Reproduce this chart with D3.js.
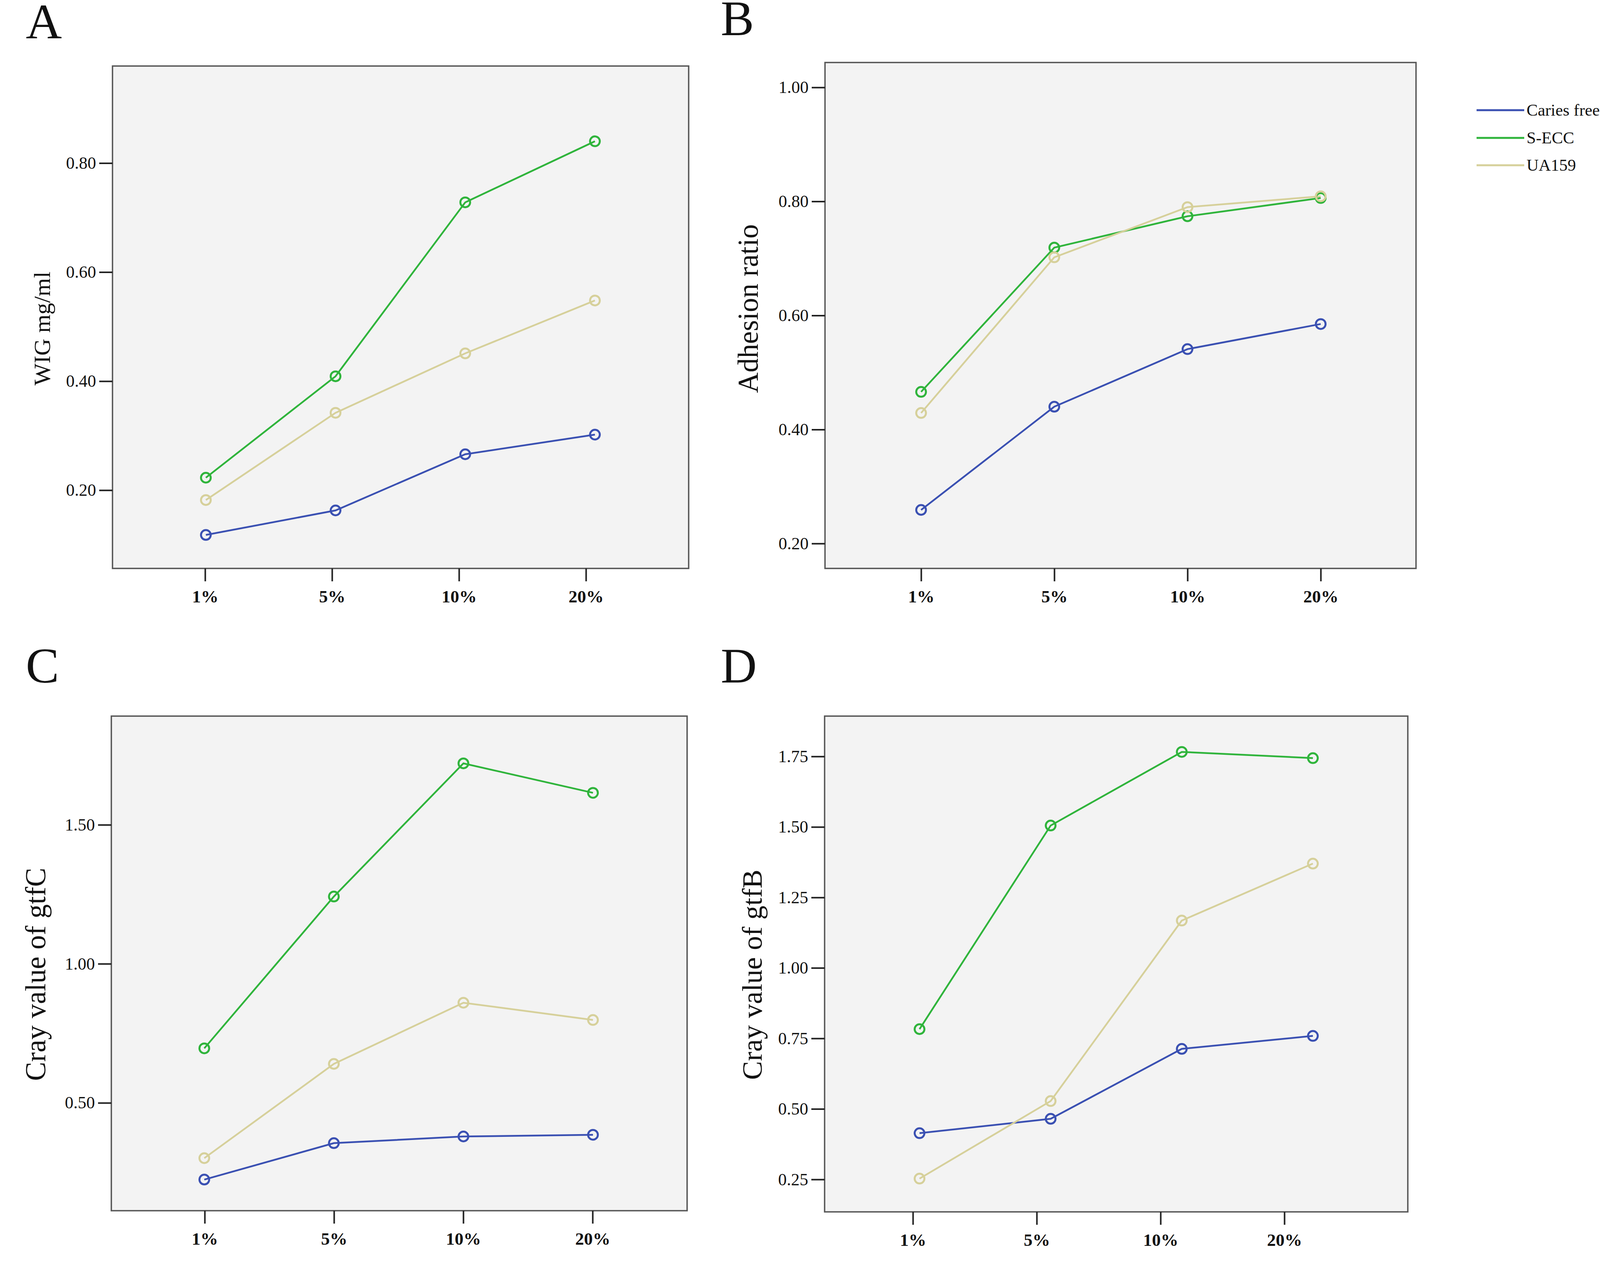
<!DOCTYPE html>
<html>
<head>
<meta charset="utf-8">
<script src="https://cdn.jsdelivr.net/npm/d3@7"></script>
<style>
  html, body { margin: 0; padding: 0; background: #fff; overflow: hidden; }
  svg { display: block; }
  text { font-family: "Liberation Serif", "Times New Roman", serif; fill: #111; }
</style>
</head>
<body>
<svg id="container" width="4142" height="3238"></svg>
<script>
// data
const categories = ["1%", "5%", "10%", "20%"];
const seriesNames = ["Caries free", "S-ECC", "UA159"];
const seriesColors = ["#3a50b2", "#2fb43b", "#d6d09a"];

const wigCariesFree = [0.118, 0.163, 0.266, 0.302];
const wigSECC = [0.223, 0.409, 0.728, 0.840];
const wigUA159 = [0.182, 0.342, 0.451, 0.548];

const adhCariesFree = [0.259, 0.440, 0.541, 0.585];
const adhSECC = [0.466, 0.719, 0.774, 0.806];
const adhUA159 = [0.429, 0.702, 0.790, 0.809];

const gtfCCariesFree = [0.224, 0.355, 0.379, 0.385];
const gtfCSECC = [0.696, 1.242, 1.721, 1.615];
const gtfCUA159 = [0.301, 0.640, 0.860, 0.798];

const gtfBCariesFree = [0.414, 0.465, 0.713, 0.759];
const gtfBSECC = [0.783, 1.505, 1.766, 1.744];
const gtfBUA159 = [0.253, 0.528, 1.168, 1.370];

const ticksA = [0.20, 0.40, 0.60, 0.80];
const ticksB = [0.20, 0.40, 0.60, 0.80, 1.00];
const ticksC = [0.50, 1.00, 1.50];
const ticksD = [0.25, 0.50, 0.75, 1.00, 1.25, 1.50, 1.75];

const svg = d3.select('#container');

const panels = [
  {letter: "A", title: "WIG mg/ml", series: [wigCariesFree, wigSECC, wigUA159], ticks: ticksA,
   domain: [0.0566, 0.978], box: [288, 169, 1763, 1455], tickX: [525, 1500], ptX: [527, 1523],
   letterPos: [66, 98], titlePos: [128, 841], titleSize: 60},
  {letter: "B", title: "Adhesion ratio", series: [adhCariesFree, adhSECC, adhUA159], ticks: ticksB,
   domain: [0.1564, 1.0436], box: [2112, 160, 3625, 1455], tickX: [2358, 3381], ptX: [2358, 3381],
   letterPos: [1845, 90], titlePos: [1940, 790], titleSize: 73},
  {letter: "C", title: "Cray value of gtfC", series: [gtfCCariesFree, gtfCSECC, gtfCUA159], ticks: ticksC,
   domain: [0.112, 1.891], box: [285, 1833, 1759, 3099], tickX: [524, 1517], ptX: [523, 1518],
   letterPos: [66, 1747], titlePos: [116, 2494], titleSize: 73},
  {letter: "D", title: "Cray value of gtfB", series: [gtfBCariesFree, gtfBSECC, gtfBUA159], ticks: ticksD,
   domain: [0.135, 1.893], box: [2111, 1833, 3604, 3102], tickX: [2337, 3288], ptX: [2354, 3361],
   letterPos: [1845, 1747], titlePos: [1950, 2495], titleSize: 72}
];

panels.forEach(p => {
  const [x0, y0, x1, y1] = p.box;
  const g = svg.append('g');

  const y = d3.scaleLinear().domain(p.domain).range([y1, y0]);
  const xTick = d3.scalePoint().domain(categories).range(p.tickX);
  const xPt = d3.scalePoint().domain(categories).range(p.ptX);

  g.append('rect')
    .attr('x', x0).attr('y', y0)
    .attr('width', x1 - x0).attr('height', y1 - y0)
    .attr('fill', '#f3f3f3')
    .attr('stroke', '#555')
    .attr('stroke-width', 3.5);

  const yAxis = g.append('g')
    .attr('transform', `translate(${x0},0)`)
    .call(d3.axisLeft(y).tickValues(p.ticks).tickFormat(d3.format('.2f')).tickSize(34).tickPadding(8));
  yAxis.select('.domain').remove();
  yAxis.selectAll('line').attr('stroke', '#222').attr('stroke-width', 4);
  yAxis.selectAll('text')
    .style('font-family', '"Liberation Serif", serif')
    .attr('font-size', 44).attr('fill', '#111');

  const xAxis = g.append('g')
    .attr('transform', `translate(0,${y1})`)
    .call(d3.axisBottom(xTick).tickSize(33).tickPadding(22));
  xAxis.select('.domain').remove();
  xAxis.selectAll('line').attr('stroke', '#222').attr('stroke-width', 4);
  xAxis.selectAll('text')
    .style('font-family', '"Liberation Serif", serif')
    .attr('font-size', 45).attr('font-weight', 'bold').attr('fill', '#111');

  const line = d3.line()
    .x((d, i) => xPt(categories[i]))
    .y(d => y(d));

  p.series.forEach((vals, si) => {
    g.append('path')
      .datum(vals)
      .attr('fill', 'none')
      .attr('stroke', seriesColors[si])
      .attr('stroke-width', 4.5)
      .attr('d', line);
  });
  p.series.forEach((vals, si) => {
    g.selectAll(null)
      .data(vals)
      .enter()
      .append('circle')
      .attr('cx', (d, i) => xPt(categories[i]))
      .attr('cy', d => y(d))
      .attr('r', 12.5)
      .attr('fill', 'none')
      .attr('stroke', seriesColors[si])
      .attr('stroke-width', 5);
  });

  g.append('text')
    .attr('x', p.letterPos[0]).attr('y', p.letterPos[1])
    .attr('font-size', 128)
    .text(p.letter);

  g.append('text')
    .attr('transform', `translate(${p.titlePos[0]},${p.titlePos[1]}) rotate(-90)`)
    .attr('text-anchor', 'middle')
    .attr('font-size', p.titleSize)
    .text(p.title);
});

// legend
const legend = svg.append('g').attr('transform', 'translate(3780,282)');
const items = legend.selectAll('g')
  .data(seriesNames)
  .enter()
  .append('g')
  .attr('transform', (d, i) => `translate(0,${[0, 71, 141][i]})`);
items.append('line')
  .attr('x1', 0).attr('x2', 122)
  .attr('stroke', (d, i) => seriesColors[i])
  .attr('stroke-width', 5);
items.append('text')
  .attr('x', 128).attr('y', 14)
  .attr('font-size', 43)
  .text(d => d);
</script>
</body>
</html>
